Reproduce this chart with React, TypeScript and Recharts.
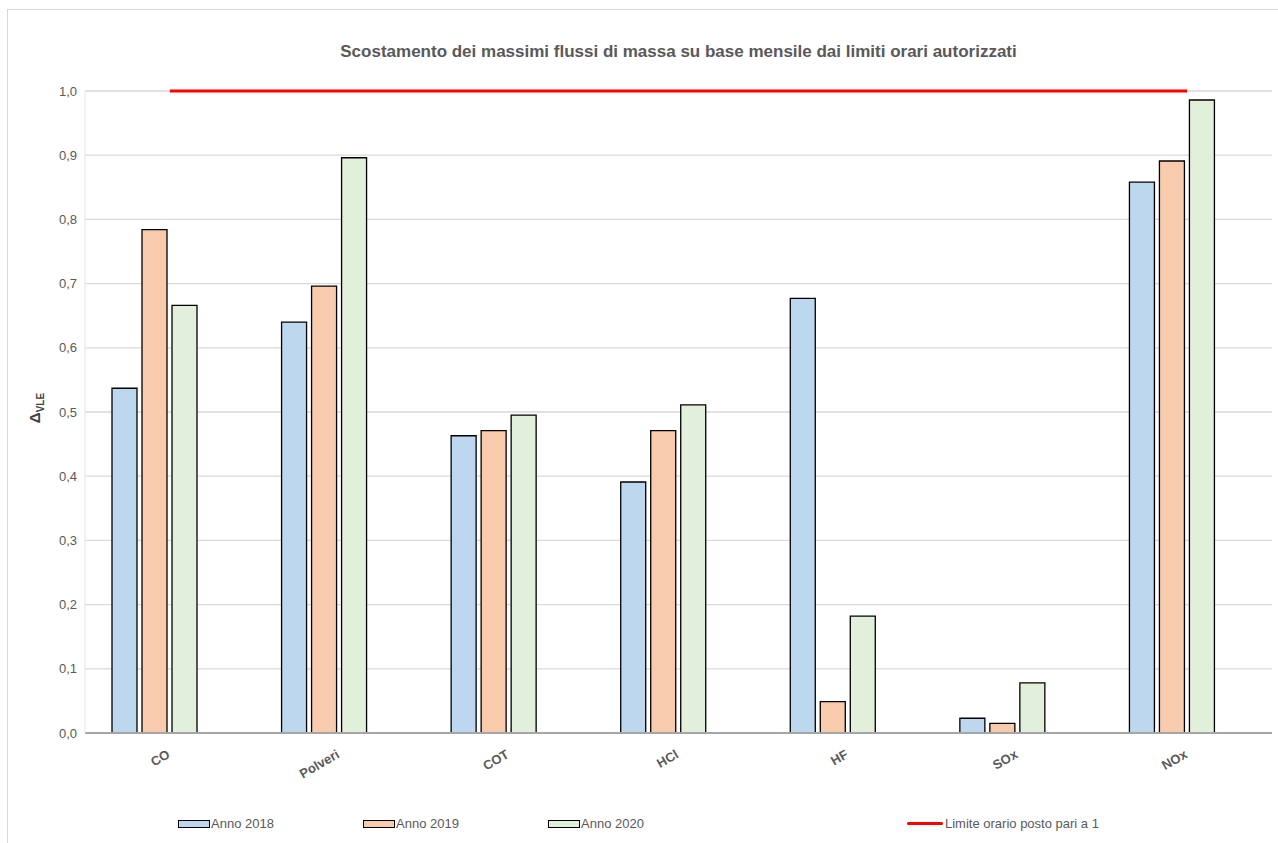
import { Bar, CartesianGrid, ComposedChart, Line, XAxis, YAxis } from "recharts";

const CATEGORIE = ["CO", "Polveri", "COT", "HCl", "HF", "SOx", "NOx"];
const ANNO_2018 = [0.537, 0.64, 0.463, 0.391, 0.677, 0.023, 0.858];
const ANNO_2019 = [0.784, 0.696, 0.471, 0.471, 0.049, 0.015, 0.891];
const ANNO_2020 = [0.666, 0.896, 0.495, 0.511, 0.182, 0.078, 0.986];
const LIMITE = 1;
const Y_TICKS = [0, 0.1, 0.2, 0.3, 0.4, 0.5, 0.6, 0.7, 0.8, 0.9, 1.0];

const data = CATEGORIE.map((nome, i) => ({
  nome,
  a2018: ANNO_2018[i],
  a2019: ANNO_2019[i],
  a2020: ANNO_2020[i],
  // empty slot: the limit series keeps a bar position in each group
  vuoto: null,
  limite: LIMITE,
}));

const FONT = "'Liberation Sans', Arial, sans-serif";
const GRIGIO = "#595959";

const LEGENDA = [
  { label: "Anno 2018", fill: "#bdd7ee", left: 178 },
  { label: "Anno 2019", fill: "#f8cbad", left: 363 },
  { label: "Anno 2020", fill: "#e2efda", left: 548 },
];

function XTick({ x, y, payload }: any) {
  const px = x + 1;
  const py = y + 16;
  return (
    <text
      x={px}
      y={py}
      transform={`rotate(-30, ${px}, ${py})`}
      textAnchor="end"
      fontFamily={FONT}
      fontWeight="bold"
      fontSize={13}
      fill={GRIGIO}
    >
      {payload.value}
    </text>
  );
}

function YLabel() {
  const cx = 40;
  const cy = 408;
  return (
    <text
      x={cx}
      y={cy}
      transform={`rotate(-90, ${cx}, ${cy})`}
      textAnchor="middle"
      fontFamily={FONT}
      fontWeight="bold"
      fill="#404040"
    >
      <tspan fontSize={15}>Δ</tspan>
      <tspan fontSize={10} dy={4}>VLE</tspan>
    </text>
  );
}

export default function App() {
  return (
    <div style={{ position: "absolute", left: 0, top: 0, width: 1278, height: 843, overflow: "hidden", background: "#fff", fontFamily: FONT }}>
      <div style={{ position: "absolute", left: 7, top: 9, width: 1300, height: 840, border: "1px solid #d9d9d9", boxSizing: "border-box" }} />
      <div style={{ position: "absolute", left: 85, width: 1187, top: 42, textAlign: "center", fontSize: 17, fontWeight: "bold", color: GRIGIO }}>
        Scostamento dei massimi flussi di massa su base mensile dai limiti orari autorizzati
      </div>
      <div style={{ position: "absolute", left: 0, top: 0 }}>
        <ComposedChart
          width={1278}
          height={843}
          data={data}
          margin={{ top: 91, right: 6, bottom: 60, left: 25 }}
          barSize={25}
          barGap={5}
        >
          <CartesianGrid vertical={false} stroke="#d9d9d9" strokeWidth={1.3} />
          <XAxis
            dataKey="nome"
            height={50}
            tickLine={false}
            axisLine={{ stroke: "#a6a6a6", strokeWidth: 2 }}
            tick={<XTick />}
            interval={0}
          />
          <YAxis
            width={60}
            domain={[0, 1]}
            ticks={Y_TICKS}
            tickFormatter={(v: number) => v.toFixed(1).replace(".", ",")}
            tickLine={false}
            axisLine={{ stroke: "#e3e3e3" }}
            tick={{ fill: GRIGIO, fontSize: 13, fontFamily: FONT }}
            label={<YLabel />}
          />
          <Bar dataKey="a2018" name="Anno 2018" fill="#bdd7ee" stroke="#000" strokeWidth={1.3} isAnimationActive={false} />
          <Bar dataKey="a2019" name="Anno 2019" fill="#f8cbad" stroke="#000" strokeWidth={1.3} isAnimationActive={false} />
          <Bar dataKey="a2020" name="Anno 2020" fill="#e2efda" stroke="#000" strokeWidth={1.3} isAnimationActive={false} />
          <Bar dataKey="vuoto" fill="none" isAnimationActive={false} />
          <Line dataKey="limite" name="Limite orario posto pari a 1" stroke="#ff0000" strokeWidth={3} dot={false} isAnimationActive={false} />
        </ComposedChart>
      </div>
      {LEGENDA.map((item) => (
        <div key={item.label} style={{ position: "absolute", left: item.left, top: 816, display: "flex", alignItems: "center", fontSize: 13, color: GRIGIO }}>
          <span style={{ display: "inline-block", width: 32, height: 8, background: item.fill, border: "1px solid #000", boxSizing: "border-box", marginRight: 1 }} />
          {item.label}
        </div>
      ))}
      <div style={{ position: "absolute", left: 907, top: 816, display: "flex", alignItems: "center", fontSize: 13, color: GRIGIO }}>
        <span style={{ display: "inline-block", width: 36, height: 3, background: "#ff0000", borderRadius: 2, marginRight: 2 }} />
        Limite orario posto pari a 1
      </div>
    </div>
  );
}
